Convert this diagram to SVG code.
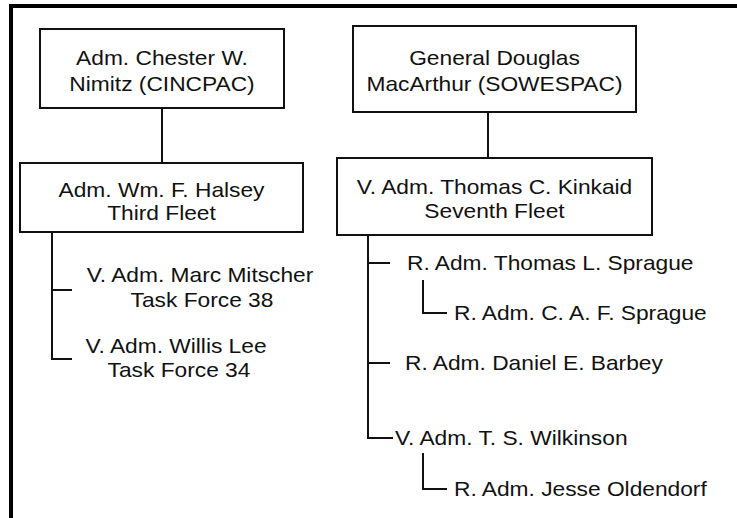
<svg xmlns="http://www.w3.org/2000/svg" width="737" height="518" viewBox="0 0 737 518">
  <style>
    .box { fill: #ffffff; stroke: #111111; stroke-width: 2; }
    .wire { fill: none; stroke: #111111; stroke-width: 2; }
    .frame { fill: none; stroke: #000000; stroke-width: 4; }
    text { font-family: "Liberation Sans", Arial, Helvetica, sans-serif; font-size: 20.5px; fill: #111111; }
    .c { text-anchor: middle; }
  </style>
  <rect width="737" height="518" fill="#ffffff"/>
  <path class="frame" d="M11,518 V6 H737"/>

  <g id="connectors">
    <line class="wire" x1="162" y1="108" x2="162" y2="163"/>
    <line class="wire" x1="488" y1="112" x2="488" y2="158"/>
    <!-- Third Fleet branch -->
    <path class="wire" d="M52,232 V359 H72 M52,290 H72"/>
    <!-- Seventh Fleet branch -->
    <path class="wire" d="M368,235 V438 H393 M368,263 H390 M368,363 H390"/>
    <path class="wire" d="M423,280 V313 H447"/>
    <path class="wire" d="M423,453 V489 H447"/>
  </g>

  <g id="nimitz">
    <rect class="box" x="40" y="29" width="244" height="79"/>
    <text class="c" transform="translate(162 65) scale(1.11 1)">Adm. Chester W.</text>
    <text class="c" transform="translate(162 91) scale(1.11 1)">Nimitz (CINCPAC)</text>
  </g>
  <g id="macarthur">
    <rect class="box" x="353" y="26" width="283" height="86"/>
    <text class="c" transform="translate(494.5 65) scale(1.11 1)">General Douglas</text>
    <text class="c" transform="translate(494.5 91) scale(1.11 1)">MacArthur (SOWESPAC)</text>
  </g>
  <g id="halsey">
    <rect class="box" x="20" y="163" width="283" height="69"/>
    <text class="c" transform="translate(161.5 197) scale(1.11 1)">Adm. Wm. F. Halsey</text>
    <text class="c" transform="translate(161.5 220) scale(1.11 1)">Third Fleet</text>
  </g>
  <g id="kinkaid">
    <rect class="box" x="337" y="158" width="315" height="77"/>
    <text class="c" transform="translate(494.5 194) scale(1.11 1)">V. Adm. Thomas C. Kinkaid</text>
    <text class="c" transform="translate(494.5 218) scale(1.11 1)">Seventh Fleet</text>
  </g>
  <g id="mitscher">
    <text class="c" transform="translate(200 282) scale(1.11 1)">V. Adm. Marc Mitscher</text>
    <text class="c" transform="translate(202 307) scale(1.11 1)">Task Force 38</text>
  </g>
  <g id="lee">
    <text class="c" transform="translate(176 353) scale(1.11 1)">V. Adm. Willis Lee</text>
    <text class="c" transform="translate(179 377) scale(1.11 1)">Task Force 34</text>
  </g>
  <g id="tl-sprague">
    <text transform="translate(407 270) scale(1.11 1)">R. Adm. Thomas L. Sprague</text>
  </g>
  <g id="caf-sprague">
    <text transform="translate(454 320) scale(1.11 1)">R. Adm. C. A. F. Sprague</text>
  </g>
  <g id="barbey">
    <text transform="translate(405 370) scale(1.11 1)">R. Adm. Daniel E. Barbey</text>
  </g>
  <g id="wilkinson">
    <text transform="translate(395 445) scale(1.11 1)">V. Adm. T. S. Wilkinson</text>
  </g>
  <g id="oldendorf">
    <text transform="translate(454 496) scale(1.11 1)">R. Adm. Jesse Oldendorf</text>
  </g>
</svg>
